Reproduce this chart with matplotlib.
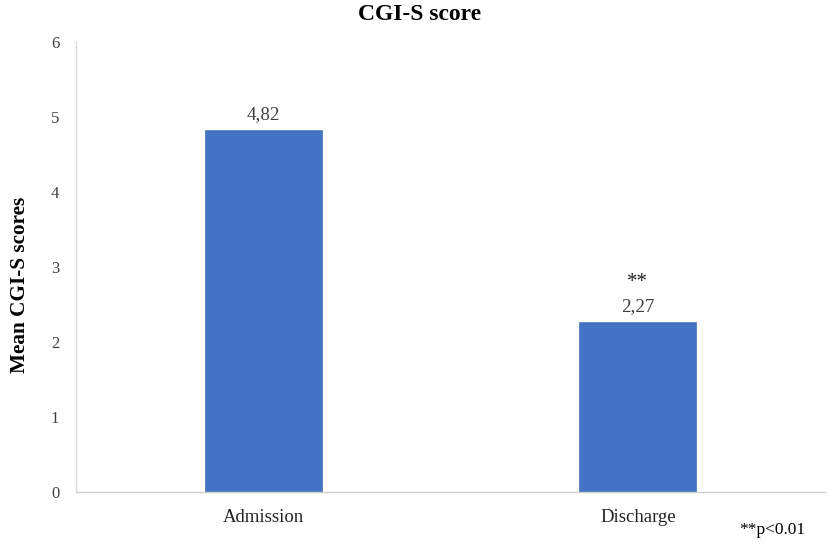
import matplotlib
matplotlib.use("Agg")
import matplotlib.pyplot as plt

categories = ["Admission", "Discharge"]
values = [4.82, 2.27]
value_labels = ["4,82", "2,27"]
significance = ["", "**"]
yticks = [0, 1, 2, 3, 4, 5, 6]

plt.rcParams['font.family'] = ['Liberation Serif', 'DejaVu Serif']

fig = plt.figure(figsize=(8.29, 5.49), dpi=100)
ax = fig.add_axes([0.0917, 0.1038, 0.9035, 0.8202])

x = list(range(len(categories)))
ax.bar(x, values, width=0.312, color="#4472C4", edgecolor="#4a74c0", linewidth=0.5)
ax.set_xlim(-0.5, len(categories) - 0.5)
ax.set_ylim(0, 6)
ax.set_yticks(yticks)
ax.set_yticklabels([str(t) for t in yticks], fontsize=12, color="#404040")
ax.set_xticks(x)
ax.set_xticklabels(categories, fontsize=13.5, color="#222222")
ax.tick_params(axis='y', length=0, pad=12)
ax.tick_params(axis='x', length=0, pad=12)

for s in ["top", "right"]:
    ax.spines[s].set_visible(False)
ax.spines["left"].set_color("#d9d9d9")
ax.spines["bottom"].set_color("#d0d0d0")
ax.spines["left"].set_linewidth(1)
ax.spines["bottom"].set_linewidth(1)

for xi, v, lab, sig in zip(x, values, value_labels, significance):
    ax.annotate(lab, (xi, v), xytext=(0, 5), textcoords="offset points",
                ha="center", va="bottom", fontsize=13.7, color="#404040")
    if sig:
        ax.annotate(sig, (xi, v), xytext=(0, 21), textcoords="offset points",
                    ha="center", va="bottom", fontsize=15, color="#222222")

fig.text(420 / 829, 1 - 20 / 549, "CGI-S score", ha="center", va="baseline",
         fontsize=17, fontweight="bold")
fig.text(20 / 829, 1 - 285 / 549, "Mean CGI-S scores", ha="center", va="center",
         rotation=90, fontsize=15.3, fontweight="bold")
fig.text(805 / 829, 1 - 530 / 549, "**p<0.01", ha="right", va="center", fontsize=12.5)

fig.savefig("out.png", dpi=100)
